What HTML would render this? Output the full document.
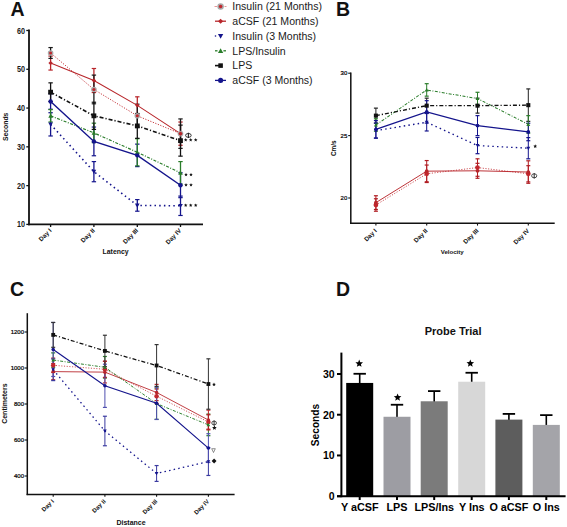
<!DOCTYPE html>
<html><head><meta charset="utf-8"><style>
html,body{margin:0;padding:0;background:#fff;width:567px;height:527px;overflow:hidden;}
svg{display:block;font-family:"Liberation Sans", sans-serif;}
</style></head><body>
<svg width="567" height="527" viewBox="0 0 567 527" font-family='"Liberation Sans", sans-serif'>
<rect width="567" height="527" fill="#fff"/>
<text x="10.50" y="15.60" font-size="19.5" font-weight="bold" text-anchor="start" fill="#111" >A</text>
<text x="336.00" y="16.00" font-size="19.5" font-weight="bold" text-anchor="start" fill="#111" >B</text>
<text x="10.00" y="296.10" font-size="19.5" font-weight="bold" text-anchor="start" fill="#111" >C</text>
<text x="336.00" y="296.10" font-size="19.5" font-weight="bold" text-anchor="start" fill="#111" >D</text>
<line x1="29.00" y1="29.60" x2="29.00" y2="225.30" stroke="#111" stroke-width="1.8" />
<line x1="28.10" y1="224.40" x2="203.00" y2="224.40" stroke="#111" stroke-width="1.8" />
<line x1="26.30" y1="224.40" x2="29.00" y2="224.40" stroke="#111" stroke-width="1.3" />
<text transform="translate(25.0,227.40) scale(0.86,1)" font-size="8.4" font-weight="bold" text-anchor="end" fill="#1a1a1a">10</text>
<line x1="26.30" y1="185.62" x2="29.00" y2="185.62" stroke="#111" stroke-width="1.3" />
<text transform="translate(25.0,188.62) scale(0.86,1)" font-size="8.4" font-weight="bold" text-anchor="end" fill="#1a1a1a">20</text>
<line x1="26.30" y1="146.84" x2="29.00" y2="146.84" stroke="#111" stroke-width="1.3" />
<text transform="translate(25.0,149.84) scale(0.86,1)" font-size="8.4" font-weight="bold" text-anchor="end" fill="#1a1a1a">30</text>
<line x1="26.30" y1="108.06" x2="29.00" y2="108.06" stroke="#111" stroke-width="1.3" />
<text transform="translate(25.0,111.06) scale(0.86,1)" font-size="8.4" font-weight="bold" text-anchor="end" fill="#1a1a1a">40</text>
<line x1="26.30" y1="69.28" x2="29.00" y2="69.28" stroke="#111" stroke-width="1.3" />
<text transform="translate(25.0,72.28) scale(0.86,1)" font-size="8.4" font-weight="bold" text-anchor="end" fill="#1a1a1a">50</text>
<line x1="26.30" y1="30.50" x2="29.00" y2="30.50" stroke="#111" stroke-width="1.3" />
<text transform="translate(25.0,33.50) scale(0.86,1)" font-size="8.4" font-weight="bold" text-anchor="end" fill="#1a1a1a">60</text>
<line x1="50.60" y1="224.40" x2="50.60" y2="227.00" stroke="#111" stroke-width="1.3" />
<text transform="translate(51.90,231.1) rotate(-45)" font-size="6.3" font-weight="bold" text-anchor="end" fill="#111">Day I</text>
<line x1="93.90" y1="224.40" x2="93.90" y2="227.00" stroke="#111" stroke-width="1.3" />
<text transform="translate(95.20,231.1) rotate(-45)" font-size="6.3" font-weight="bold" text-anchor="end" fill="#111">Day II</text>
<line x1="137.30" y1="224.40" x2="137.30" y2="227.00" stroke="#111" stroke-width="1.3" />
<text transform="translate(138.60,231.1) rotate(-45)" font-size="6.3" font-weight="bold" text-anchor="end" fill="#111">Day III</text>
<line x1="180.50" y1="224.40" x2="180.50" y2="227.00" stroke="#111" stroke-width="1.3" />
<text transform="translate(181.80,231.1) rotate(-45)" font-size="6.3" font-weight="bold" text-anchor="end" fill="#111">Day IV</text>
<text x="115.60" y="254.40" font-size="6.9" font-weight="bold" text-anchor="middle" fill="#111" >Latency</text>
<text transform="translate(7.7,126.8) rotate(-90)" font-size="6.8" font-weight="bold" text-anchor="middle" fill="#111">Seconds</text>
<line x1="50.60" y1="93.71" x2="50.60" y2="109.22" stroke="#14148c" stroke-width="1.3" />
<line x1="48.40" y1="93.71" x2="52.80" y2="93.71" stroke="#14148c" stroke-width="1.2" />
<line x1="48.40" y1="109.22" x2="52.80" y2="109.22" stroke="#14148c" stroke-width="1.2" />
<line x1="93.90" y1="127.06" x2="93.90" y2="155.76" stroke="#14148c" stroke-width="1.3" />
<line x1="91.70" y1="127.06" x2="96.10" y2="127.06" stroke="#14148c" stroke-width="1.2" />
<line x1="91.70" y1="155.76" x2="96.10" y2="155.76" stroke="#14148c" stroke-width="1.2" />
<line x1="137.30" y1="144.13" x2="137.30" y2="166.62" stroke="#14148c" stroke-width="1.3" />
<line x1="135.10" y1="144.13" x2="139.50" y2="144.13" stroke="#14148c" stroke-width="1.2" />
<line x1="135.10" y1="166.62" x2="139.50" y2="166.62" stroke="#14148c" stroke-width="1.2" />
<line x1="180.50" y1="172.82" x2="180.50" y2="197.64" stroke="#14148c" stroke-width="1.3" />
<line x1="178.30" y1="172.82" x2="182.70" y2="172.82" stroke="#14148c" stroke-width="1.2" />
<line x1="178.30" y1="197.64" x2="182.70" y2="197.64" stroke="#14148c" stroke-width="1.2" />
<line x1="50.60" y1="112.71" x2="50.60" y2="135.98" stroke="#14148c" stroke-width="1.3" />
<line x1="48.40" y1="112.71" x2="52.80" y2="112.71" stroke="#14148c" stroke-width="1.2" />
<line x1="48.40" y1="135.98" x2="52.80" y2="135.98" stroke="#14148c" stroke-width="1.2" />
<line x1="93.90" y1="161.58" x2="93.90" y2="181.74" stroke="#14148c" stroke-width="1.3" />
<line x1="91.70" y1="161.58" x2="96.10" y2="161.58" stroke="#14148c" stroke-width="1.2" />
<line x1="91.70" y1="181.74" x2="96.10" y2="181.74" stroke="#14148c" stroke-width="1.2" />
<line x1="137.30" y1="199.58" x2="137.30" y2="211.21" stroke="#14148c" stroke-width="1.3" />
<line x1="135.10" y1="199.58" x2="139.50" y2="199.58" stroke="#14148c" stroke-width="1.2" />
<line x1="135.10" y1="211.21" x2="139.50" y2="211.21" stroke="#14148c" stroke-width="1.2" />
<line x1="180.50" y1="196.09" x2="180.50" y2="215.48" stroke="#14148c" stroke-width="1.3" />
<line x1="178.30" y1="196.09" x2="182.70" y2="196.09" stroke="#14148c" stroke-width="1.2" />
<line x1="178.30" y1="215.48" x2="182.70" y2="215.48" stroke="#14148c" stroke-width="1.2" />
<line x1="50.60" y1="109.61" x2="50.60" y2="122.02" stroke="#2a7d2a" stroke-width="1.3" />
<line x1="48.40" y1="109.61" x2="52.80" y2="109.61" stroke="#2a7d2a" stroke-width="1.2" />
<line x1="48.40" y1="122.02" x2="52.80" y2="122.02" stroke="#2a7d2a" stroke-width="1.2" />
<line x1="93.90" y1="123.18" x2="93.90" y2="142.57" stroke="#2a7d2a" stroke-width="1.3" />
<line x1="91.70" y1="123.18" x2="96.10" y2="123.18" stroke="#2a7d2a" stroke-width="1.2" />
<line x1="91.70" y1="142.57" x2="96.10" y2="142.57" stroke="#2a7d2a" stroke-width="1.2" />
<line x1="137.30" y1="138.70" x2="137.30" y2="165.84" stroke="#2a7d2a" stroke-width="1.3" />
<line x1="135.10" y1="138.70" x2="139.50" y2="138.70" stroke="#2a7d2a" stroke-width="1.2" />
<line x1="135.10" y1="165.84" x2="139.50" y2="165.84" stroke="#2a7d2a" stroke-width="1.2" />
<line x1="180.50" y1="161.58" x2="180.50" y2="184.07" stroke="#2a7d2a" stroke-width="1.3" />
<line x1="178.30" y1="161.58" x2="182.70" y2="161.58" stroke="#2a7d2a" stroke-width="1.2" />
<line x1="178.30" y1="184.07" x2="182.70" y2="184.07" stroke="#2a7d2a" stroke-width="1.2" />
<line x1="50.60" y1="56.09" x2="50.60" y2="70.06" stroke="#b8262b" stroke-width="1.3" />
<line x1="48.40" y1="56.09" x2="52.80" y2="56.09" stroke="#b8262b" stroke-width="1.2" />
<line x1="48.40" y1="70.06" x2="52.80" y2="70.06" stroke="#b8262b" stroke-width="1.2" />
<line x1="93.90" y1="68.50" x2="93.90" y2="92.55" stroke="#b8262b" stroke-width="1.3" />
<line x1="91.70" y1="68.50" x2="96.10" y2="68.50" stroke="#b8262b" stroke-width="1.2" />
<line x1="91.70" y1="92.55" x2="96.10" y2="92.55" stroke="#b8262b" stroke-width="1.2" />
<line x1="137.30" y1="96.81" x2="137.30" y2="113.88" stroke="#b8262b" stroke-width="1.3" />
<line x1="135.10" y1="96.81" x2="139.50" y2="96.81" stroke="#b8262b" stroke-width="1.2" />
<line x1="135.10" y1="113.88" x2="139.50" y2="113.88" stroke="#b8262b" stroke-width="1.2" />
<line x1="180.50" y1="122.02" x2="180.50" y2="145.29" stroke="#b8262b" stroke-width="1.3" />
<line x1="178.30" y1="122.02" x2="182.70" y2="122.02" stroke="#b8262b" stroke-width="1.2" />
<line x1="178.30" y1="145.29" x2="182.70" y2="145.29" stroke="#b8262b" stroke-width="1.2" />
<line x1="50.60" y1="47.56" x2="50.60" y2="58.42" stroke="#1a1a1a" stroke-width="1.3" />
<line x1="48.40" y1="47.56" x2="52.80" y2="47.56" stroke="#1a1a1a" stroke-width="1.2" />
<line x1="48.40" y1="58.42" x2="52.80" y2="58.42" stroke="#1a1a1a" stroke-width="1.2" />
<line x1="93.90" y1="75.10" x2="93.90" y2="103.79" stroke="#1a1a1a" stroke-width="1.3" />
<line x1="91.70" y1="75.10" x2="96.10" y2="75.10" stroke="#1a1a1a" stroke-width="1.2" />
<line x1="91.70" y1="103.79" x2="96.10" y2="103.79" stroke="#1a1a1a" stroke-width="1.2" />
<line x1="137.30" y1="104.18" x2="137.30" y2="127.45" stroke="#1a1a1a" stroke-width="1.3" />
<line x1="135.10" y1="104.18" x2="139.50" y2="104.18" stroke="#1a1a1a" stroke-width="1.2" />
<line x1="135.10" y1="127.45" x2="139.50" y2="127.45" stroke="#1a1a1a" stroke-width="1.2" />
<line x1="180.50" y1="118.92" x2="180.50" y2="148.39" stroke="#1a1a1a" stroke-width="1.3" />
<line x1="178.30" y1="118.92" x2="182.70" y2="118.92" stroke="#1a1a1a" stroke-width="1.2" />
<line x1="178.30" y1="148.39" x2="182.70" y2="148.39" stroke="#1a1a1a" stroke-width="1.2" />
<line x1="50.60" y1="82.85" x2="50.60" y2="101.47" stroke="#111" stroke-width="1.3" />
<line x1="48.40" y1="82.85" x2="52.80" y2="82.85" stroke="#111" stroke-width="1.2" />
<line x1="48.40" y1="101.47" x2="52.80" y2="101.47" stroke="#111" stroke-width="1.2" />
<line x1="93.90" y1="102.24" x2="93.90" y2="129.39" stroke="#111" stroke-width="1.3" />
<line x1="91.70" y1="102.24" x2="96.10" y2="102.24" stroke="#111" stroke-width="1.2" />
<line x1="91.70" y1="129.39" x2="96.10" y2="129.39" stroke="#111" stroke-width="1.2" />
<line x1="137.30" y1="113.49" x2="137.30" y2="138.31" stroke="#111" stroke-width="1.3" />
<line x1="135.10" y1="113.49" x2="139.50" y2="113.49" stroke="#111" stroke-width="1.2" />
<line x1="135.10" y1="138.31" x2="139.50" y2="138.31" stroke="#111" stroke-width="1.2" />
<line x1="180.50" y1="125.12" x2="180.50" y2="156.15" stroke="#111" stroke-width="1.3" />
<line x1="178.30" y1="125.12" x2="182.70" y2="125.12" stroke="#111" stroke-width="1.2" />
<line x1="178.30" y1="156.15" x2="182.70" y2="156.15" stroke="#111" stroke-width="1.2" />
<polyline points="50.60,52.99 93.90,89.45 137.30,115.82 180.50,133.65" fill="none" stroke="#c1272d" stroke-width="1.0" stroke-dasharray="1.1 1.6" />
<polyline points="50.60,63.08 93.90,80.53 137.30,105.35 180.50,133.65" fill="none" stroke="#b8262b" stroke-width="1.1"  />
<polyline points="50.60,124.35 93.90,171.66 137.30,205.40 180.50,205.79" fill="none" stroke="#14148c" stroke-width="1.6" stroke-dasharray="1.5 3.2" />
<polyline points="50.60,115.82 93.90,132.88 137.30,152.27 180.50,172.82" fill="none" stroke="#2a7d2a" stroke-width="1.2" stroke-dasharray="3 1.5 1 1.5" />
<polyline points="50.60,92.16 93.90,115.82 137.30,125.90 180.50,140.64" fill="none" stroke="#111" stroke-width="1.6" stroke-dasharray="4 2 1.2 2" />
<polyline points="50.60,101.47 93.90,141.41 137.30,155.37 180.50,185.23" fill="none" stroke="#14148c" stroke-width="1.45"  />
<circle cx="50.60" cy="52.99" r="2.80" fill="#a8a8a8"/>
<circle cx="50.60" cy="52.99" r="1.54" fill="#c1272d"/>
<circle cx="93.90" cy="89.45" r="2.80" fill="#a8a8a8"/>
<circle cx="93.90" cy="89.45" r="1.54" fill="#c1272d"/>
<circle cx="137.30" cy="115.82" r="2.80" fill="#a8a8a8"/>
<circle cx="137.30" cy="115.82" r="1.54" fill="#c1272d"/>
<circle cx="180.50" cy="133.65" r="2.80" fill="#a8a8a8"/>
<circle cx="180.50" cy="133.65" r="1.54" fill="#c1272d"/>
<polygon points="48.40,63.08 50.60,60.88 52.80,63.08 50.60,65.28" fill="#b8262b"/>
<polygon points="91.70,80.53 93.90,78.33 96.10,80.53 93.90,82.73" fill="#b8262b"/>
<polygon points="135.10,105.35 137.30,103.15 139.50,105.35 137.30,107.55" fill="#b8262b"/>
<polygon points="178.30,133.65 180.50,131.45 182.70,133.65 180.50,135.85" fill="#b8262b"/>
<polygon points="48.30,122.51 52.90,122.51 50.60,126.65" fill="#14148c"/>
<polygon points="91.60,169.82 96.20,169.82 93.90,173.96" fill="#14148c"/>
<polygon points="135.00,203.56 139.60,203.56 137.30,207.70" fill="#14148c"/>
<polygon points="178.20,203.95 182.80,203.95 180.50,208.09" fill="#14148c"/>
<polygon points="48.30,117.66 52.90,117.66 50.60,113.52" fill="#2a7d2a"/>
<polygon points="91.60,134.72 96.20,134.72 93.90,130.58" fill="#2a7d2a"/>
<polygon points="135.00,154.11 139.60,154.11 137.30,149.97" fill="#2a7d2a"/>
<polygon points="178.20,174.66 182.80,174.66 180.50,170.52" fill="#2a7d2a"/>
<rect x="48.20" y="89.76" width="4.80" height="4.80" fill="#111"/>
<rect x="91.50" y="113.42" width="4.80" height="4.80" fill="#111"/>
<rect x="134.90" y="123.50" width="4.80" height="4.80" fill="#111"/>
<rect x="178.10" y="138.24" width="4.80" height="4.80" fill="#111"/>
<circle cx="50.60" cy="101.47" r="2.20" fill="#14148c"/>
<circle cx="93.90" cy="141.41" r="2.20" fill="#14148c"/>
<circle cx="137.30" cy="155.37" r="2.20" fill="#14148c"/>
<circle cx="180.50" cy="185.23" r="2.20" fill="#14148c"/>
<ellipse cx="188.40" cy="135.40" rx="2.80" ry="1.95" fill="none" stroke="#222" stroke-width="0.9"/>
<line x1="188.40" y1="132.70" x2="188.40" y2="138.10" stroke="#222" stroke-width="1.08" />
<polygon points="185.70,138.10 186.20,139.31 187.51,139.41 186.51,140.26 186.82,141.54 185.70,140.85 184.58,141.54 184.89,140.26 183.89,139.41 185.20,139.31" fill="#111"/>
<polygon points="190.70,138.10 191.20,139.31 192.51,139.41 191.51,140.26 191.82,141.54 190.70,140.85 189.58,141.54 189.89,140.26 188.89,139.41 190.20,139.31" fill="#111"/>
<polygon points="195.70,138.10 196.20,139.31 197.51,139.41 196.51,140.26 196.82,141.54 195.70,140.85 194.58,141.54 194.89,140.26 193.89,139.41 195.20,139.31" fill="#111"/>
<polygon points="186.00,172.70 186.50,173.91 187.81,174.01 186.81,174.86 187.12,176.14 186.00,175.45 184.88,176.14 185.19,174.86 184.19,174.01 185.50,173.91" fill="#111"/>
<polygon points="191.00,172.70 191.50,173.91 192.81,174.01 191.81,174.86 192.12,176.14 191.00,175.45 189.88,176.14 190.19,174.86 189.19,174.01 190.50,173.91" fill="#111"/>
<polygon points="186.00,183.10 186.50,184.31 187.81,184.41 186.81,185.26 187.12,186.54 186.00,185.85 184.88,186.54 185.19,185.26 184.19,184.41 185.50,184.31" fill="#111"/>
<polygon points="191.00,183.10 191.50,184.31 192.81,184.41 191.81,185.26 192.12,186.54 191.00,185.85 189.88,186.54 190.19,185.26 189.19,184.41 190.50,184.31" fill="#111"/>
<polygon points="185.70,203.40 186.20,204.61 187.51,204.71 186.51,205.56 186.82,206.84 185.70,206.16 184.58,206.84 184.89,205.56 183.89,204.71 185.20,204.61" fill="#111"/>
<polygon points="190.70,203.40 191.20,204.61 192.51,204.71 191.51,205.56 191.82,206.84 190.70,206.16 189.58,206.84 189.89,205.56 188.89,204.71 190.20,204.61" fill="#111"/>
<polygon points="195.70,203.40 196.20,204.61 197.51,204.71 196.51,205.56 196.82,206.84 195.70,206.16 194.58,206.84 194.89,205.56 193.89,204.71 195.20,204.61" fill="#111"/>
<line x1="214.50" y1="6.50" x2="217.00" y2="6.50" stroke="#e08080" stroke-width="0.8" />
<line x1="224.50" y1="6.50" x2="226.50" y2="6.50" stroke="#e08080" stroke-width="0.8" />
<circle cx="220.60" cy="6.50" r="3.22" fill="#a8a8a8"/>
<circle cx="220.60" cy="6.50" r="1.77" fill="#c1272d"/>
<text x="232.30" y="10.20" font-size="10.55" font-weight="normal" text-anchor="start" fill="#1a1a1a" >Insulin (21 Months)</text>
<line x1="215.00" y1="21.20" x2="226.00" y2="21.20" stroke="#b8262b" stroke-width="1.3" />
<polygon points="218.07,21.20 220.60,18.67 223.13,21.20 220.60,23.73" fill="#b8262b"/>
<text x="232.30" y="24.90" font-size="10.55" font-weight="normal" text-anchor="start" fill="#1a1a1a" >aCSF (21 Months)</text>
<circle cx="215.5" cy="36.00" r="0.8" fill="#14148c"/>
<polygon points="217.95,33.88 223.25,33.88 220.60,38.64" fill="#14148c"/>
<text x="232.30" y="39.70" font-size="10.55" font-weight="normal" text-anchor="start" fill="#1a1a1a" >Insulin (3 Months)</text>
<line x1="215.00" y1="50.80" x2="217.50" y2="50.80" stroke="#2a7d2a" stroke-width="1.3" />
<line x1="223.40" y1="50.80" x2="226.00" y2="50.80" stroke="#2a7d2a" stroke-width="1.3" />
<polygon points="217.95,52.92 223.25,52.92 220.60,48.16" fill="#2a7d2a"/>
<text x="232.30" y="54.50" font-size="10.55" font-weight="normal" text-anchor="start" fill="#1a1a1a" >LPS/Insulin</text>
<line x1="215.00" y1="65.60" x2="220.00" y2="65.60" stroke="#111" stroke-width="1.6" />
<rect x="218.32" y="63.32" width="4.56" height="4.56" fill="#111"/>
<text x="232.30" y="69.30" font-size="10.55" font-weight="normal" text-anchor="start" fill="#1a1a1a" >LPS</text>
<line x1="215.00" y1="80.40" x2="226.00" y2="80.40" stroke="#14148c" stroke-width="1.3" />
<circle cx="220.60" cy="80.40" r="2.53" fill="#14148c"/>
<text x="232.30" y="84.10" font-size="10.55" font-weight="normal" text-anchor="start" fill="#1a1a1a" >aCSF (3 Months)</text>
<line x1="350.80" y1="72.60" x2="350.80" y2="224.00" stroke="#111" stroke-width="1.5" />
<line x1="350.10" y1="223.30" x2="554.70" y2="223.30" stroke="#111" stroke-width="1.5" />
<line x1="348.20" y1="198.00" x2="350.80" y2="198.00" stroke="#111" stroke-width="1.1" />
<text x="347.30" y="200.20" font-size="6.0" font-weight="normal" text-anchor="end" fill="#000" stroke="#000" stroke-width="0.22">20</text>
<line x1="348.20" y1="135.60" x2="350.80" y2="135.60" stroke="#111" stroke-width="1.1" />
<text x="347.30" y="137.80" font-size="6.0" font-weight="normal" text-anchor="end" fill="#000" stroke="#000" stroke-width="0.22">25</text>
<line x1="348.20" y1="73.20" x2="350.80" y2="73.20" stroke="#111" stroke-width="1.1" />
<text x="347.30" y="75.40" font-size="6.0" font-weight="normal" text-anchor="end" fill="#000" stroke="#000" stroke-width="0.22">30</text>
<line x1="375.90" y1="223.30" x2="375.90" y2="225.60" stroke="#111" stroke-width="1.1" />
<text transform="translate(377.30,231.2) rotate(-45)" font-size="6.3" font-weight="bold" text-anchor="end" fill="#111">Day I</text>
<line x1="426.70" y1="223.30" x2="426.70" y2="225.60" stroke="#111" stroke-width="1.1" />
<text transform="translate(428.10,231.2) rotate(-45)" font-size="6.3" font-weight="bold" text-anchor="end" fill="#111">Day II</text>
<line x1="477.50" y1="223.30" x2="477.50" y2="225.60" stroke="#111" stroke-width="1.1" />
<text transform="translate(478.90,231.2) rotate(-45)" font-size="6.3" font-weight="bold" text-anchor="end" fill="#111">Day III</text>
<line x1="528.30" y1="223.30" x2="528.30" y2="225.60" stroke="#111" stroke-width="1.1" />
<text transform="translate(529.70,231.2) rotate(-45)" font-size="6.3" font-weight="bold" text-anchor="end" fill="#111">Day IV</text>
<text x="452.20" y="253.60" font-size="6.1" font-weight="bold" text-anchor="middle" fill="#111" >Velocity</text>
<text transform="translate(336.3,148.2) rotate(-90)" font-size="6.4" font-weight="bold" text-anchor="middle" fill="#111">Cm/s</text>
<line x1="375.90" y1="108.14" x2="375.90" y2="123.12" stroke="#222" stroke-width="1.0" />
<line x1="373.90" y1="108.14" x2="377.90" y2="108.14" stroke="#222" stroke-width="1.2" />
<line x1="373.90" y1="123.12" x2="377.90" y2="123.12" stroke="#222" stroke-width="1.2" />
<line x1="426.70" y1="98.16" x2="426.70" y2="113.14" stroke="#222" stroke-width="1.0" />
<line x1="424.70" y1="98.16" x2="428.70" y2="98.16" stroke="#222" stroke-width="1.2" />
<line x1="424.70" y1="113.14" x2="428.70" y2="113.14" stroke="#222" stroke-width="1.2" />
<line x1="477.50" y1="98.16" x2="477.50" y2="113.14" stroke="#222" stroke-width="1.0" />
<line x1="475.50" y1="98.16" x2="479.50" y2="98.16" stroke="#222" stroke-width="1.2" />
<line x1="475.50" y1="113.14" x2="479.50" y2="113.14" stroke="#222" stroke-width="1.2" />
<line x1="528.30" y1="88.92" x2="528.30" y2="121.37" stroke="#222" stroke-width="1.0" />
<line x1="526.30" y1="88.92" x2="530.30" y2="88.92" stroke="#222" stroke-width="1.2" />
<line x1="526.30" y1="121.37" x2="530.30" y2="121.37" stroke="#222" stroke-width="1.2" />
<line x1="375.90" y1="118.75" x2="375.90" y2="131.23" stroke="#2a7d2a" stroke-width="1.0" />
<line x1="373.90" y1="118.75" x2="377.90" y2="118.75" stroke="#2a7d2a" stroke-width="1.2" />
<line x1="373.90" y1="131.23" x2="377.90" y2="131.23" stroke="#2a7d2a" stroke-width="1.2" />
<line x1="426.70" y1="83.68" x2="426.70" y2="96.16" stroke="#2a7d2a" stroke-width="1.0" />
<line x1="424.70" y1="83.68" x2="428.70" y2="83.68" stroke="#2a7d2a" stroke-width="1.2" />
<line x1="424.70" y1="96.16" x2="428.70" y2="96.16" stroke="#2a7d2a" stroke-width="1.2" />
<line x1="477.50" y1="92.29" x2="477.50" y2="104.77" stroke="#2a7d2a" stroke-width="1.0" />
<line x1="475.50" y1="92.29" x2="479.50" y2="92.29" stroke="#2a7d2a" stroke-width="1.2" />
<line x1="475.50" y1="104.77" x2="479.50" y2="104.77" stroke="#2a7d2a" stroke-width="1.2" />
<line x1="528.30" y1="115.63" x2="528.30" y2="133.10" stroke="#2a7d2a" stroke-width="1.0" />
<line x1="526.30" y1="115.63" x2="530.30" y2="115.63" stroke="#2a7d2a" stroke-width="1.2" />
<line x1="526.30" y1="133.10" x2="530.30" y2="133.10" stroke="#2a7d2a" stroke-width="1.2" />
<line x1="375.90" y1="195.75" x2="375.90" y2="209.48" stroke="#b01c22" stroke-width="1.0" />
<line x1="373.90" y1="195.75" x2="377.90" y2="195.75" stroke="#b01c22" stroke-width="1.2" />
<line x1="373.90" y1="209.48" x2="377.90" y2="209.48" stroke="#b01c22" stroke-width="1.2" />
<line x1="426.70" y1="160.56" x2="426.70" y2="181.78" stroke="#b01c22" stroke-width="1.0" />
<line x1="424.70" y1="160.56" x2="428.70" y2="160.56" stroke="#b01c22" stroke-width="1.2" />
<line x1="424.70" y1="181.78" x2="428.70" y2="181.78" stroke="#b01c22" stroke-width="1.2" />
<line x1="477.50" y1="163.31" x2="477.50" y2="178.28" stroke="#b01c22" stroke-width="1.0" />
<line x1="475.50" y1="163.31" x2="479.50" y2="163.31" stroke="#b01c22" stroke-width="1.2" />
<line x1="475.50" y1="178.28" x2="479.50" y2="178.28" stroke="#b01c22" stroke-width="1.2" />
<line x1="528.30" y1="160.81" x2="528.30" y2="183.27" stroke="#b01c22" stroke-width="1.0" />
<line x1="526.30" y1="160.81" x2="530.30" y2="160.81" stroke="#b01c22" stroke-width="1.2" />
<line x1="526.30" y1="183.27" x2="530.30" y2="183.27" stroke="#b01c22" stroke-width="1.2" />
<line x1="375.90" y1="198.75" x2="375.90" y2="211.23" stroke="#b01c22" stroke-width="1.0" />
<line x1="373.90" y1="198.75" x2="377.90" y2="198.75" stroke="#b01c22" stroke-width="1.2" />
<line x1="373.90" y1="211.23" x2="377.90" y2="211.23" stroke="#b01c22" stroke-width="1.2" />
<line x1="426.70" y1="165.05" x2="426.70" y2="182.52" stroke="#b01c22" stroke-width="1.0" />
<line x1="424.70" y1="165.05" x2="428.70" y2="165.05" stroke="#b01c22" stroke-width="1.2" />
<line x1="424.70" y1="182.52" x2="428.70" y2="182.52" stroke="#b01c22" stroke-width="1.2" />
<line x1="477.50" y1="158.81" x2="477.50" y2="176.28" stroke="#b01c22" stroke-width="1.0" />
<line x1="475.50" y1="158.81" x2="479.50" y2="158.81" stroke="#b01c22" stroke-width="1.2" />
<line x1="475.50" y1="176.28" x2="479.50" y2="176.28" stroke="#b01c22" stroke-width="1.2" />
<line x1="528.30" y1="165.68" x2="528.30" y2="181.90" stroke="#b01c22" stroke-width="1.0" />
<line x1="526.30" y1="165.68" x2="530.30" y2="165.68" stroke="#b01c22" stroke-width="1.2" />
<line x1="526.30" y1="181.90" x2="530.30" y2="181.90" stroke="#b01c22" stroke-width="1.2" />
<line x1="375.90" y1="120.62" x2="375.90" y2="138.10" stroke="#14148c" stroke-width="1.0" />
<line x1="373.90" y1="120.62" x2="377.90" y2="120.62" stroke="#14148c" stroke-width="1.2" />
<line x1="373.90" y1="138.10" x2="377.90" y2="138.10" stroke="#14148c" stroke-width="1.2" />
<line x1="426.70" y1="100.66" x2="426.70" y2="123.12" stroke="#14148c" stroke-width="1.0" />
<line x1="424.70" y1="100.66" x2="428.70" y2="100.66" stroke="#14148c" stroke-width="1.2" />
<line x1="424.70" y1="123.12" x2="428.70" y2="123.12" stroke="#14148c" stroke-width="1.2" />
<line x1="477.50" y1="115.63" x2="477.50" y2="135.60" stroke="#14148c" stroke-width="1.0" />
<line x1="475.50" y1="115.63" x2="479.50" y2="115.63" stroke="#14148c" stroke-width="1.2" />
<line x1="475.50" y1="135.60" x2="479.50" y2="135.60" stroke="#14148c" stroke-width="1.2" />
<line x1="528.30" y1="123.24" x2="528.30" y2="140.72" stroke="#14148c" stroke-width="1.0" />
<line x1="526.30" y1="123.24" x2="530.30" y2="123.24" stroke="#14148c" stroke-width="1.2" />
<line x1="526.30" y1="140.72" x2="530.30" y2="140.72" stroke="#14148c" stroke-width="1.2" />
<line x1="375.90" y1="123.12" x2="375.90" y2="138.10" stroke="#14148c" stroke-width="1.0" />
<line x1="373.90" y1="123.12" x2="377.90" y2="123.12" stroke="#14148c" stroke-width="1.2" />
<line x1="373.90" y1="138.10" x2="377.90" y2="138.10" stroke="#14148c" stroke-width="1.2" />
<line x1="426.70" y1="113.51" x2="426.70" y2="130.98" stroke="#14148c" stroke-width="1.0" />
<line x1="424.70" y1="113.51" x2="428.70" y2="113.51" stroke="#14148c" stroke-width="1.2" />
<line x1="424.70" y1="130.98" x2="428.70" y2="130.98" stroke="#14148c" stroke-width="1.2" />
<line x1="477.50" y1="137.47" x2="477.50" y2="153.70" stroke="#14148c" stroke-width="1.0" />
<line x1="475.50" y1="137.47" x2="479.50" y2="137.47" stroke="#14148c" stroke-width="1.2" />
<line x1="475.50" y1="153.70" x2="479.50" y2="153.70" stroke="#14148c" stroke-width="1.2" />
<line x1="528.30" y1="137.60" x2="528.30" y2="158.81" stroke="#14148c" stroke-width="1.0" />
<line x1="526.30" y1="137.60" x2="530.30" y2="137.60" stroke="#14148c" stroke-width="1.2" />
<line x1="526.30" y1="158.81" x2="530.30" y2="158.81" stroke="#14148c" stroke-width="1.2" />
<polyline points="375.90,204.99 426.70,173.79 477.50,167.55 528.30,173.79" fill="none" stroke="#c1272d" stroke-width="0.85" stroke-dasharray="1.1 1.6" />
<polyline points="375.90,202.62 426.70,171.17 477.50,170.79 528.30,172.04" fill="none" stroke="#b8262b" stroke-width="0.935"  />
<polyline points="375.90,130.61 426.70,122.25 477.50,145.58 528.30,148.20" fill="none" stroke="#14148c" stroke-width="1.36" stroke-dasharray="1.5 3.2" />
<polyline points="375.90,124.99 426.70,89.92 477.50,98.53 528.30,124.37" fill="none" stroke="#2a7d2a" stroke-width="1.02" stroke-dasharray="3 1.5 1 1.5" />
<polyline points="375.90,115.63 426.70,105.65 477.50,105.65 528.30,105.15" fill="none" stroke="#111" stroke-width="1.36" stroke-dasharray="4 2 1.2 2" />
<polyline points="375.90,129.36 426.70,111.89 477.50,125.62 528.30,131.98" fill="none" stroke="#14148c" stroke-width="1.2325"  />
<circle cx="375.90" cy="204.99" r="2.38" fill="#c1272d"/>
<circle cx="426.70" cy="173.79" r="2.38" fill="#c1272d"/>
<circle cx="477.50" cy="167.55" r="2.38" fill="#c1272d"/>
<circle cx="528.30" cy="173.79" r="2.38" fill="#c1272d"/>
<circle cx="375.90" cy="202.62" r="1.87" fill="#b8262b"/>
<circle cx="426.70" cy="171.17" r="1.87" fill="#b8262b"/>
<circle cx="477.50" cy="170.79" r="1.87" fill="#b8262b"/>
<circle cx="528.30" cy="172.04" r="1.87" fill="#b8262b"/>
<polygon points="373.94,129.04 377.85,129.04 375.90,132.56" fill="#14148c"/>
<polygon points="424.75,120.68 428.65,120.68 426.70,124.20" fill="#14148c"/>
<polygon points="475.55,144.02 479.45,144.02 477.50,147.54" fill="#14148c"/>
<polygon points="526.34,146.64 530.25,146.64 528.30,150.16" fill="#14148c"/>
<polygon points="373.94,126.56 377.85,126.56 375.90,123.04" fill="#2a7d2a"/>
<polygon points="424.75,91.49 428.65,91.49 426.70,87.97" fill="#2a7d2a"/>
<polygon points="475.55,100.10 479.45,100.10 477.50,96.58" fill="#2a7d2a"/>
<polygon points="526.34,125.93 530.25,125.93 528.30,122.41" fill="#2a7d2a"/>
<rect x="373.86" y="113.59" width="4.08" height="4.08" fill="#111"/>
<rect x="424.66" y="103.61" width="4.08" height="4.08" fill="#111"/>
<rect x="475.46" y="103.61" width="4.08" height="4.08" fill="#111"/>
<rect x="526.26" y="103.11" width="4.08" height="4.08" fill="#111"/>
<circle cx="375.90" cy="129.36" r="1.87" fill="#14148c"/>
<circle cx="426.70" cy="111.89" r="1.87" fill="#14148c"/>
<circle cx="477.50" cy="125.62" r="1.87" fill="#14148c"/>
<circle cx="528.30" cy="131.98" r="1.87" fill="#14148c"/>
<polygon points="535.20,144.30 535.73,145.57 537.10,145.68 536.06,146.58 536.38,147.92 535.20,147.20 534.02,147.92 534.34,146.58 533.30,145.68 534.67,145.57" fill="#111"/>
<ellipse cx="534.20" cy="175.80" rx="2.60" ry="2.00" fill="none" stroke="#222" stroke-width="0.8"/>
<line x1="534.20" y1="173.10" x2="534.20" y2="178.50" stroke="#222" stroke-width="0.96" />
<line x1="27.30" y1="313.20" x2="27.30" y2="495.10" stroke="#111" stroke-width="1.5" />
<line x1="26.60" y1="494.40" x2="234.60" y2="494.40" stroke="#111" stroke-width="1.5" />
<line x1="24.60" y1="476.00" x2="27.30" y2="476.00" stroke="#111" stroke-width="1.1" />
<text x="24.00" y="478.20" font-size="6.0" font-weight="normal" text-anchor="end" fill="#000" stroke="#000" stroke-width="0.22">400</text>
<line x1="24.60" y1="440.00" x2="27.30" y2="440.00" stroke="#111" stroke-width="1.1" />
<text x="24.00" y="442.20" font-size="6.0" font-weight="normal" text-anchor="end" fill="#000" stroke="#000" stroke-width="0.22">600</text>
<line x1="24.60" y1="404.00" x2="27.30" y2="404.00" stroke="#111" stroke-width="1.1" />
<text x="24.00" y="406.20" font-size="6.0" font-weight="normal" text-anchor="end" fill="#000" stroke="#000" stroke-width="0.22">800</text>
<line x1="24.60" y1="368.00" x2="27.30" y2="368.00" stroke="#111" stroke-width="1.1" />
<text x="24.00" y="370.20" font-size="6.0" font-weight="normal" text-anchor="end" fill="#000" stroke="#000" stroke-width="0.22">1000</text>
<line x1="24.60" y1="332.00" x2="27.30" y2="332.00" stroke="#111" stroke-width="1.1" />
<text x="24.00" y="334.20" font-size="6.0" font-weight="normal" text-anchor="end" fill="#000" stroke="#000" stroke-width="0.22">1200</text>
<line x1="53.20" y1="494.40" x2="53.20" y2="496.80" stroke="#111" stroke-width="1.1" />
<text transform="translate(54.40,501.8) rotate(-45)" font-size="6.1" font-weight="bold" text-anchor="end" fill="#111">Day I</text>
<line x1="104.90" y1="494.40" x2="104.90" y2="496.80" stroke="#111" stroke-width="1.1" />
<text transform="translate(106.10,501.8) rotate(-45)" font-size="6.1" font-weight="bold" text-anchor="end" fill="#111">Day II</text>
<line x1="156.60" y1="494.40" x2="156.60" y2="496.80" stroke="#111" stroke-width="1.1" />
<text transform="translate(157.80,501.8) rotate(-45)" font-size="6.1" font-weight="bold" text-anchor="end" fill="#111">Day III</text>
<line x1="208.40" y1="494.40" x2="208.40" y2="496.80" stroke="#111" stroke-width="1.1" />
<text transform="translate(209.60,501.8) rotate(-45)" font-size="6.1" font-weight="bold" text-anchor="end" fill="#111">Day IV</text>
<text x="131.00" y="524.50" font-size="7.0" font-weight="bold" text-anchor="middle" fill="#111" >Distance</text>
<text transform="translate(6.9,403.6) rotate(-90)" font-size="7.0" font-weight="bold" text-anchor="middle" fill="#111">Centimeters</text>
<line x1="53.20" y1="352.88" x2="53.20" y2="367.28" stroke="#2a7d2a" stroke-width="1.0" />
<line x1="51.20" y1="352.88" x2="55.20" y2="352.88" stroke="#2a7d2a" stroke-width="1.2" />
<line x1="51.20" y1="367.28" x2="55.20" y2="367.28" stroke="#2a7d2a" stroke-width="1.2" />
<line x1="104.90" y1="356.48" x2="104.90" y2="378.08" stroke="#2a7d2a" stroke-width="1.0" />
<line x1="102.90" y1="356.48" x2="106.90" y2="356.48" stroke="#2a7d2a" stroke-width="1.2" />
<line x1="102.90" y1="378.08" x2="106.90" y2="378.08" stroke="#2a7d2a" stroke-width="1.2" />
<line x1="156.60" y1="387.98" x2="156.60" y2="419.30" stroke="#2a7d2a" stroke-width="1.0" />
<line x1="154.60" y1="387.98" x2="158.60" y2="387.98" stroke="#2a7d2a" stroke-width="1.2" />
<line x1="154.60" y1="419.30" x2="158.60" y2="419.30" stroke="#2a7d2a" stroke-width="1.2" />
<line x1="208.40" y1="414.08" x2="208.40" y2="435.68" stroke="#2a7d2a" stroke-width="1.0" />
<line x1="206.40" y1="414.08" x2="210.40" y2="414.08" stroke="#2a7d2a" stroke-width="1.2" />
<line x1="206.40" y1="435.68" x2="210.40" y2="435.68" stroke="#2a7d2a" stroke-width="1.2" />
<line x1="53.20" y1="363.50" x2="53.20" y2="379.70" stroke="#b8262b" stroke-width="1.0" />
<line x1="51.20" y1="363.50" x2="55.20" y2="363.50" stroke="#b8262b" stroke-width="1.2" />
<line x1="51.20" y1="379.70" x2="55.20" y2="379.70" stroke="#b8262b" stroke-width="1.2" />
<line x1="104.90" y1="361.34" x2="104.90" y2="382.94" stroke="#b8262b" stroke-width="1.0" />
<line x1="102.90" y1="361.34" x2="106.90" y2="361.34" stroke="#b8262b" stroke-width="1.2" />
<line x1="102.90" y1="382.94" x2="106.90" y2="382.94" stroke="#b8262b" stroke-width="1.2" />
<line x1="156.60" y1="384.38" x2="156.60" y2="400.58" stroke="#b8262b" stroke-width="1.0" />
<line x1="154.60" y1="384.38" x2="158.60" y2="384.38" stroke="#b8262b" stroke-width="1.2" />
<line x1="154.60" y1="400.58" x2="158.60" y2="400.58" stroke="#b8262b" stroke-width="1.2" />
<line x1="208.40" y1="410.12" x2="208.40" y2="429.92" stroke="#b8262b" stroke-width="1.0" />
<line x1="206.40" y1="410.12" x2="210.40" y2="410.12" stroke="#b8262b" stroke-width="1.2" />
<line x1="206.40" y1="429.92" x2="210.40" y2="429.92" stroke="#b8262b" stroke-width="1.2" />
<line x1="53.20" y1="358.10" x2="53.20" y2="372.50" stroke="#b01c22" stroke-width="1.0" />
<line x1="51.20" y1="358.10" x2="55.20" y2="358.10" stroke="#b01c22" stroke-width="1.2" />
<line x1="51.20" y1="372.50" x2="55.20" y2="372.50" stroke="#b01c22" stroke-width="1.2" />
<line x1="104.90" y1="361.16" x2="104.90" y2="377.36" stroke="#b01c22" stroke-width="1.0" />
<line x1="102.90" y1="361.16" x2="106.90" y2="361.16" stroke="#b01c22" stroke-width="1.2" />
<line x1="102.90" y1="377.36" x2="106.90" y2="377.36" stroke="#b01c22" stroke-width="1.2" />
<line x1="156.60" y1="389.06" x2="156.60" y2="403.46" stroke="#b01c22" stroke-width="1.0" />
<line x1="154.60" y1="389.06" x2="158.60" y2="389.06" stroke="#b01c22" stroke-width="1.2" />
<line x1="154.60" y1="403.46" x2="158.60" y2="403.46" stroke="#b01c22" stroke-width="1.2" />
<line x1="208.40" y1="414.80" x2="208.40" y2="429.20" stroke="#b01c22" stroke-width="1.0" />
<line x1="206.40" y1="414.80" x2="210.40" y2="414.80" stroke="#b01c22" stroke-width="1.2" />
<line x1="206.40" y1="429.20" x2="210.40" y2="429.20" stroke="#b01c22" stroke-width="1.2" />
<line x1="53.20" y1="359.00" x2="53.20" y2="380.60" stroke="#3a3aa0" stroke-width="1.0" />
<line x1="51.20" y1="359.00" x2="55.20" y2="359.00" stroke="#3a3aa0" stroke-width="1.2" />
<line x1="51.20" y1="380.60" x2="55.20" y2="380.60" stroke="#3a3aa0" stroke-width="1.2" />
<line x1="104.90" y1="416.24" x2="104.90" y2="445.76" stroke="#3a3aa0" stroke-width="1.0" />
<line x1="102.90" y1="416.24" x2="106.90" y2="416.24" stroke="#3a3aa0" stroke-width="1.2" />
<line x1="102.90" y1="445.76" x2="106.90" y2="445.76" stroke="#3a3aa0" stroke-width="1.2" />
<line x1="156.60" y1="465.56" x2="156.60" y2="481.40" stroke="#3a3aa0" stroke-width="1.0" />
<line x1="154.60" y1="465.56" x2="158.60" y2="465.56" stroke="#3a3aa0" stroke-width="1.2" />
<line x1="154.60" y1="481.40" x2="158.60" y2="481.40" stroke="#3a3aa0" stroke-width="1.2" />
<line x1="208.40" y1="447.74" x2="208.40" y2="475.46" stroke="#3a3aa0" stroke-width="1.0" />
<line x1="206.40" y1="447.74" x2="210.40" y2="447.74" stroke="#3a3aa0" stroke-width="1.2" />
<line x1="206.40" y1="475.46" x2="210.40" y2="475.46" stroke="#3a3aa0" stroke-width="1.2" />
<line x1="53.20" y1="322.46" x2="53.20" y2="376.46" stroke="#5050b0" stroke-width="1.0" />
<line x1="51.20" y1="322.46" x2="55.20" y2="322.46" stroke="#5050b0" stroke-width="1.2" />
<line x1="51.20" y1="376.46" x2="55.20" y2="376.46" stroke="#5050b0" stroke-width="1.2" />
<line x1="104.90" y1="364.22" x2="104.90" y2="407.42" stroke="#5050b0" stroke-width="1.0" />
<line x1="102.90" y1="364.22" x2="106.90" y2="364.22" stroke="#5050b0" stroke-width="1.2" />
<line x1="102.90" y1="407.42" x2="106.90" y2="407.42" stroke="#5050b0" stroke-width="1.2" />
<line x1="156.60" y1="387.08" x2="156.60" y2="419.48" stroke="#5050b0" stroke-width="1.0" />
<line x1="154.60" y1="387.08" x2="158.60" y2="387.08" stroke="#5050b0" stroke-width="1.2" />
<line x1="154.60" y1="419.48" x2="158.60" y2="419.48" stroke="#5050b0" stroke-width="1.2" />
<line x1="208.40" y1="433.70" x2="208.40" y2="462.50" stroke="#5050b0" stroke-width="1.0" />
<line x1="206.40" y1="433.70" x2="210.40" y2="433.70" stroke="#5050b0" stroke-width="1.2" />
<line x1="206.40" y1="462.50" x2="210.40" y2="462.50" stroke="#5050b0" stroke-width="1.2" />
<line x1="53.20" y1="322.46" x2="53.20" y2="347.30" stroke="#333" stroke-width="1.0" />
<line x1="51.20" y1="322.46" x2="55.20" y2="322.46" stroke="#333" stroke-width="1.2" />
<line x1="51.20" y1="347.30" x2="55.20" y2="347.30" stroke="#333" stroke-width="1.2" />
<line x1="104.90" y1="335.24" x2="104.90" y2="366.56" stroke="#333" stroke-width="1.0" />
<line x1="102.90" y1="335.24" x2="106.90" y2="335.24" stroke="#333" stroke-width="1.2" />
<line x1="102.90" y1="366.56" x2="106.90" y2="366.56" stroke="#333" stroke-width="1.2" />
<line x1="156.60" y1="344.60" x2="156.60" y2="386.36" stroke="#333" stroke-width="1.0" />
<line x1="154.60" y1="344.60" x2="158.60" y2="344.60" stroke="#333" stroke-width="1.2" />
<line x1="154.60" y1="386.36" x2="158.60" y2="386.36" stroke="#333" stroke-width="1.2" />
<line x1="208.40" y1="358.82" x2="208.40" y2="409.22" stroke="#333" stroke-width="1.0" />
<line x1="206.40" y1="358.82" x2="210.40" y2="358.82" stroke="#333" stroke-width="1.2" />
<line x1="206.40" y1="409.22" x2="210.40" y2="409.22" stroke="#333" stroke-width="1.2" />
<polyline points="53.20,365.30 104.90,369.26 156.60,396.26 208.40,422.00" fill="none" stroke="#c1272d" stroke-width="0.8" stroke-dasharray="1.1 1.6" />
<polyline points="53.20,371.60 104.90,372.14 156.60,392.48 208.40,420.02" fill="none" stroke="#b8262b" stroke-width="0.8800000000000001"  />
<polyline points="53.20,369.80 104.90,431.00 156.60,473.48 208.40,461.60" fill="none" stroke="#14148c" stroke-width="1.2800000000000002" stroke-dasharray="1.5 3.2" />
<polyline points="53.20,360.08 104.90,367.28 156.60,403.64 208.40,424.88" fill="none" stroke="#2a7d2a" stroke-width="0.96" stroke-dasharray="3 1.5 1 1.5" />
<polyline points="53.20,334.88 104.90,350.90 156.60,365.48 208.40,384.02" fill="none" stroke="#111" stroke-width="1.2800000000000002" stroke-dasharray="4 2 1.2 2" />
<polyline points="53.20,349.46 104.90,385.82 156.60,403.28 208.40,448.10" fill="none" stroke="#14148c" stroke-width="1.16"  />
<circle cx="53.20" cy="365.30" r="2.24" fill="#c1272d"/>
<circle cx="104.90" cy="369.26" r="2.24" fill="#c1272d"/>
<circle cx="156.60" cy="396.26" r="2.24" fill="#c1272d"/>
<circle cx="208.40" cy="422.00" r="2.24" fill="#c1272d"/>
<circle cx="53.20" cy="371.60" r="1.76" fill="#b8262b"/>
<circle cx="104.90" cy="372.14" r="1.76" fill="#b8262b"/>
<circle cx="156.60" cy="392.48" r="1.76" fill="#b8262b"/>
<circle cx="208.40" cy="420.02" r="1.76" fill="#b8262b"/>
<polygon points="51.36,368.33 55.04,368.33 53.20,371.64" fill="#14148c"/>
<polygon points="103.06,429.53 106.74,429.53 104.90,432.84" fill="#14148c"/>
<polygon points="154.76,472.01 158.44,472.01 156.60,475.32" fill="#14148c"/>
<polygon points="206.56,460.13 210.24,460.13 208.40,463.44" fill="#14148c"/>
<polygon points="51.36,361.55 55.04,361.55 53.20,358.24" fill="#2a7d2a"/>
<polygon points="103.06,368.75 106.74,368.75 104.90,365.44" fill="#2a7d2a"/>
<polygon points="154.76,405.11 158.44,405.11 156.60,401.80" fill="#2a7d2a"/>
<polygon points="206.56,426.35 210.24,426.35 208.40,423.04" fill="#2a7d2a"/>
<rect x="51.28" y="332.96" width="3.84" height="3.84" fill="#111"/>
<rect x="102.98" y="348.98" width="3.84" height="3.84" fill="#111"/>
<rect x="154.68" y="363.56" width="3.84" height="3.84" fill="#111"/>
<rect x="206.48" y="382.10" width="3.84" height="3.84" fill="#111"/>
<circle cx="53.20" cy="349.46" r="1.76" fill="#14148c"/>
<circle cx="104.90" cy="385.82" r="1.76" fill="#14148c"/>
<circle cx="156.60" cy="403.28" r="1.76" fill="#14148c"/>
<circle cx="208.40" cy="448.10" r="1.76" fill="#14148c"/>
<polygon points="214.00,382.50 214.53,383.77 215.90,383.88 214.86,384.78 215.18,386.12 214.00,385.40 212.82,386.12 213.14,384.78 212.10,383.88 213.47,383.77" fill="#111"/>
<ellipse cx="214.10" cy="423.00" rx="2.35" ry="1.90" fill="none" stroke="#222" stroke-width="0.8"/>
<line x1="214.10" y1="420.40" x2="214.10" y2="425.60" stroke="#222" stroke-width="0.96" />
<polygon points="214.40,425.30 215.06,426.89 216.78,427.03 215.47,428.15 215.87,429.82 214.40,428.93 212.93,429.82 213.33,428.15 212.02,427.03 213.74,426.89" fill="#111"/>
<polygon points="211.7,448.7 215.3,448.7 213.5,452.5" fill="none" stroke="#444" stroke-width="0.6"/>
<polygon points="214.1,458.6 216.5,461.0 214.1,463.4 211.7,461.0" fill="#111"/>
<line x1="359.70" y1="373.78" x2="359.70" y2="383.94" stroke="#000" stroke-width="1.6" />
<line x1="353.50" y1="373.78" x2="365.90" y2="373.78" stroke="#000" stroke-width="1.8" />
<rect x="346.20" y="382.94" width="27" height="113.26" fill="#000000"/>
<line x1="397.00" y1="404.74" x2="397.00" y2="417.76" stroke="#000" stroke-width="1.6" />
<line x1="390.80" y1="404.74" x2="403.20" y2="404.74" stroke="#000" stroke-width="1.8" />
<rect x="383.50" y="416.76" width="27" height="79.44" fill="#9d9da3"/>
<line x1="434.20" y1="391.09" x2="434.20" y2="402.28" stroke="#000" stroke-width="1.6" />
<line x1="428.00" y1="391.09" x2="440.40" y2="391.09" stroke="#000" stroke-width="1.8" />
<rect x="420.70" y="401.28" width="27" height="94.92" fill="#7b7b7b"/>
<line x1="471.70" y1="372.76" x2="471.70" y2="382.72" stroke="#000" stroke-width="1.6" />
<line x1="465.50" y1="372.76" x2="477.90" y2="372.76" stroke="#000" stroke-width="1.8" />
<rect x="458.20" y="381.72" width="27" height="114.48" fill="#d7d7d7"/>
<line x1="508.90" y1="413.91" x2="508.90" y2="420.61" stroke="#000" stroke-width="1.6" />
<line x1="502.70" y1="413.91" x2="515.10" y2="413.91" stroke="#000" stroke-width="1.8" />
<rect x="495.40" y="419.61" width="27" height="76.59" fill="#5d5d5d"/>
<line x1="546.30" y1="415.13" x2="546.30" y2="425.90" stroke="#000" stroke-width="1.6" />
<line x1="540.10" y1="415.13" x2="552.50" y2="415.13" stroke="#000" stroke-width="1.8" />
<rect x="532.80" y="424.90" width="27" height="71.30" fill="#a4a4a9"/>
<line x1="341.40" y1="352.60" x2="341.40" y2="497.20" stroke="#000" stroke-width="2.0" />
<line x1="337.00" y1="496.20" x2="565.60" y2="496.20" stroke="#000" stroke-width="2.0" />
<line x1="337.00" y1="496.20" x2="341.40" y2="496.20" stroke="#000" stroke-width="2.0" />
<text x="334.60" y="500.00" font-size="10.5" font-weight="bold" text-anchor="end" fill="#000" >0</text>
<line x1="337.00" y1="455.46" x2="341.40" y2="455.46" stroke="#000" stroke-width="2.0" />
<text x="334.60" y="459.26" font-size="10.5" font-weight="bold" text-anchor="end" fill="#000" >10</text>
<line x1="337.00" y1="414.72" x2="341.40" y2="414.72" stroke="#000" stroke-width="2.0" />
<text x="334.60" y="418.52" font-size="10.5" font-weight="bold" text-anchor="end" fill="#000" >20</text>
<line x1="337.00" y1="373.98" x2="341.40" y2="373.98" stroke="#000" stroke-width="2.0" />
<text x="334.60" y="377.78" font-size="10.5" font-weight="bold" text-anchor="end" fill="#000" >30</text>
<line x1="359.70" y1="496.20" x2="359.70" y2="500.00" stroke="#000" stroke-width="2.0" />
<text x="359.70" y="511.20" font-size="10.8" font-weight="bold" text-anchor="middle" fill="#000" >Y aCSF</text>
<line x1="397.00" y1="496.20" x2="397.00" y2="500.00" stroke="#000" stroke-width="2.0" />
<text x="397.00" y="511.20" font-size="10.8" font-weight="bold" text-anchor="middle" fill="#000" >LPS</text>
<line x1="434.20" y1="496.20" x2="434.20" y2="500.00" stroke="#000" stroke-width="2.0" />
<text x="434.20" y="511.20" font-size="10.8" font-weight="bold" text-anchor="middle" fill="#000" >LPS/Ins</text>
<line x1="471.70" y1="496.20" x2="471.70" y2="500.00" stroke="#000" stroke-width="2.0" />
<text x="471.70" y="511.20" font-size="10.8" font-weight="bold" text-anchor="middle" fill="#000" >Y Ins</text>
<line x1="508.90" y1="496.20" x2="508.90" y2="500.00" stroke="#000" stroke-width="2.0" />
<text x="508.90" y="511.20" font-size="10.8" font-weight="bold" text-anchor="middle" fill="#000" >O aCSF</text>
<line x1="546.30" y1="496.20" x2="546.30" y2="500.00" stroke="#000" stroke-width="2.0" />
<text x="546.30" y="511.20" font-size="10.8" font-weight="bold" text-anchor="middle" fill="#000" >O Ins</text>
<polygon points="359.20,359.60 360.26,362.14 363.00,362.36 360.91,364.16 361.55,366.84 359.20,365.40 356.85,366.84 357.49,364.16 355.40,362.36 358.14,362.14" fill="#000"/>
<polygon points="397.60,393.40 398.66,395.94 401.40,396.16 399.31,397.96 399.95,400.64 397.60,399.20 395.25,400.64 395.89,397.96 393.80,396.16 396.54,395.94" fill="#000"/>
<polygon points="470.30,359.40 471.36,361.94 474.10,362.16 472.01,363.96 472.65,366.64 470.30,365.20 467.95,366.64 468.59,363.96 466.50,362.16 469.24,361.94" fill="#000"/>
<text x="453.10" y="335.20" font-size="11.0" font-weight="bold" text-anchor="middle" fill="#111" >Probe Trial</text>
<text transform="translate(318.6,425) rotate(-90)" font-size="10.2" font-weight="bold" text-anchor="middle" fill="#000">Seconds</text>
</svg>
</body></html>
